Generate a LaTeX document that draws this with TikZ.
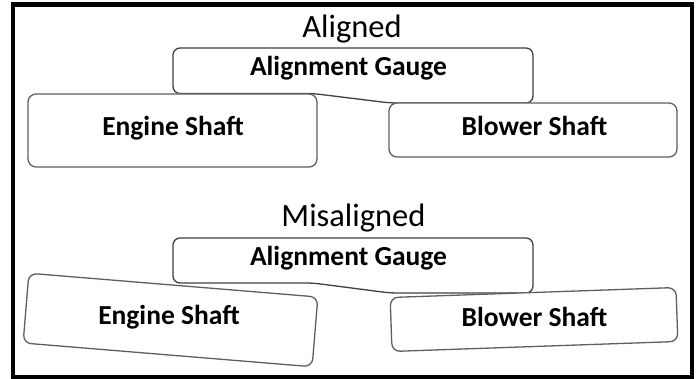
\documentclass[tikz,border=0pt]{standalone}
\usepackage{fontspec}
\setmainfont{Carlito}
\definecolor{gaugegray}{RGB}{64,64,64}
\definecolor{shaftgray}{RGB}{95,95,95}
\begin{document}
\begin{tikzpicture}[x=1pt,y=-1pt,
  frame/.style={line width=4.5pt},
  gauge/.style={draw=gaugegray, line width=1.3pt, fill=white, rounded corners=7pt},
  shaft/.style={draw=shaftgray, line width=1.3pt, fill=white, rounded corners=8pt, rectangle, inner sep=0pt},
  titletext/.style={font=\fontsize{32.5}{38}\selectfont, anchor=base, inner sep=0pt},
  lbl/.style={font=\fontsize{27.5}{33}\selectfont\bfseries, anchor=base, inner sep=0pt}]
\useasboundingbox (0,0) rectangle (699,379);
\draw[frame] (13,4.5) rectangle (692,377);
% Aligned
\node[titletext] (t1) at (352,38) {Aligned};
\draw[gauge] (173,48) -- (533,48) -- (533,103) -- (390,103) -- (313,93.5) -- (173,93.5) -- cycle;
\node[shaft, minimum width=289pt, minimum height=73pt] (eng1) at (172.5,130.5) {};
\node[shaft, minimum width=288pt, minimum height=54pt] (blw1) at (533,130) {};
\node[lbl] (g1) at (348.5,76) {Alignment Gauge};
\node[lbl] (e1) at (173,136) {Engine Shaft};
\node[lbl] (b1) at (534.5,136) {Blower Shaft};
% Misaligned
\node[titletext] (t2) at (353.5,227) {Misaligned};
\draw[gauge] (173,238) -- (533,238) -- (533,293) -- (390,293) -- (313,283) -- (173,283) -- cycle;
\node[shaft, minimum width=290pt, minimum height=70pt, rotate=-4.7] (eng2) at (170.5,320) {};
\node[shaft, minimum width=286pt, minimum height=54pt, rotate=2] (blw2) at (534,319.5) {};
\node[lbl] (g2) at (348.5,266) {Alignment Gauge};
\node[lbl] (e2) at (169,325) {Engine Shaft};
\node[lbl] (b2) at (534.5,327) {Blower Shaft};
\end{tikzpicture}
\end{document}
